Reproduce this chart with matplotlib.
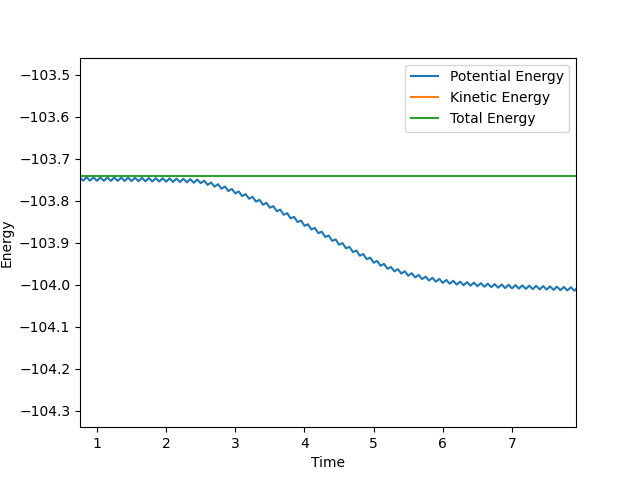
import numpy as np
import matplotlib
matplotlib.use("Agg")
import matplotlib.pyplot as plt

# time grid (uniform step of 0.05)
time = np.round(np.arange(0.75, 7.96, 0.05), 2)

potential_energy = [
    -103.7435, -103.7516, -103.7436, -103.7517, -103.7437, -103.7518, -103.7439, -103.7519,
    -103.7440, -103.7521, -103.7441, -103.7522, -103.7443, -103.7524, -103.7444, -103.7525,
    -103.7446, -103.7528, -103.7449, -103.7531, -103.7453, -103.7534, -103.7456, -103.7537,
    -103.7459, -103.7540, -103.7462, -103.7545, -103.7467, -103.7550, -103.7472, -103.7556,
    -103.7481, -103.7566, -103.7490, -103.7575, -103.7516, -103.7617, -103.7558, -103.7659,
    -103.7600, -103.7708, -103.7656, -103.7764, -103.7712, -103.7820, -103.7772, -103.7884,
    -103.7836, -103.7948, -103.7900, -103.8016, -103.7972, -103.8088, -103.8044, -103.8160,
    -103.8122, -103.8244, -103.8206, -103.8328, -103.8290, -103.8414, -103.8378, -103.8502,
    -103.8466, -103.8590, -103.8554, -103.8678, -103.8642, -103.8766, -103.8730, -103.8856,
    -103.8822, -103.8948, -103.8914, -103.9040, -103.9004, -103.9128, -103.9092, -103.9216,
    -103.9180, -103.9302, -103.9264, -103.9386, -103.9348, -103.9470, -103.9426, -103.9542,
    -103.9498, -103.9614, -103.9570, -103.9676, -103.9622, -103.9728, -103.9674, -103.9780,
    -103.9720, -103.9820, -103.9760, -103.9860, -103.9800, -103.9894, -103.9828, -103.9922,
    -103.9856, -103.9950, -103.9880, -103.9970, -103.9900, -103.9990, -103.9920, -104.0006,
    -103.9932, -104.0018, -103.9944, -104.0030, -103.9956, -104.0042, -103.9968, -104.0054,
    -103.9980, -104.0064, -103.9988, -104.0072, -103.9996, -104.0080, -104.0003, -104.0086,
    -104.0009, -104.0092, -104.0015, -104.0098, -104.0021, -104.0104, -104.0027, -104.0110,
    -104.0033, -104.0117, -104.0040, -104.0123, -104.0047, -104.0130, -104.0053, -104.0137,
    -104.0060,
]
total_value = -103.7397

potential_energy = np.array(potential_energy)
total_energy = np.full_like(potential_energy, total_value)
kinetic_energy = total_energy - potential_energy

fig, ax = plt.subplots(figsize=(6.4, 4.8), dpi=100)
ax.plot(time, potential_energy, label="Potential Energy")
ax.plot(time, kinetic_energy, label="Kinetic Energy")
ax.plot(time, total_energy, label="Total Energy")

ax.set_xlim(0.755, 7.925)
ax.set_ylim(-104.3386, -103.4586)
ax.set_xlabel("Time")
ax.set_ylabel("Energy")
ax.legend(loc="upper right")

fig.savefig("out.png", dpi=100)
